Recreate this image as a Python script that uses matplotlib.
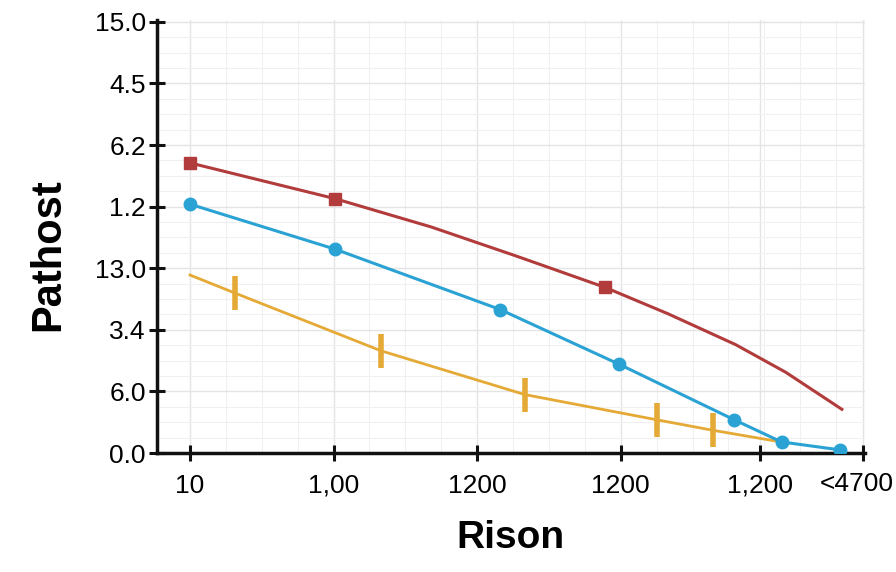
import matplotlib
matplotlib.use('Agg')
import matplotlib.pyplot as plt
from matplotlib.ticker import MultipleLocator

plt.rcParams['font.family'] = ['Liberation Sans', 'DejaVu Sans']

# tick positions / labels as printed on the chart
x_ticks = [0, 1, 2, 3, 3.97, 4.69]
x_labels = ['10', '1,00', '1200', '1200', '1,200', '']
last_x_label = '<4700'   # drawn by hand, slightly left of its tick
y_ticks = [0, 1, 2, 3, 4, 5, 6, 7]
y_labels = ['0.0', '6.0', '3.4', '13.0', '1.2', '6.2', '4.5', '15.0']

# red series (squares only on some points)
red_x = [0, 1.01, 1.68, 2.27, 2.89, 3.33, 3.80, 4.15, 4.54]
red_y = [4.71, 4.13, 3.67, 3.20, 2.69, 2.26, 1.76, 1.31, 0.71]
red_marks = [0, 1, 4]

# blue series
blue_x = [0, 1.01, 2.16, 2.99, 3.79, 4.12, 4.53]
blue_y = [4.04, 3.31, 2.33, 1.44, 0.54, 0.18, 0.05]

# orange series (vertical bar markers)
orange_x = [0, 0.31, 1.33, 2.33, 3.25, 3.64, 4.09]
orange_y = [2.89, 2.60, 1.66, 0.95, 0.54, 0.37, 0.19]
orange_marks = [1, 2, 3, 4, 5]

fig = plt.figure(figsize=(8.96, 5.72), dpi=100)
ax = fig.add_axes([0.1752, 0.208, 0.79, 0.757])

ax.plot(red_x, red_y, color='#b23b3b', lw=2.2, marker='s', ms=8,
        markevery=red_marks, zorder=3)
ax.plot(blue_x, blue_y, color='#2aa3d4', lw=2.2, marker='o', ms=9, zorder=4)
ax.plot(orange_x, orange_y, color='#e5a935', lw=2.0, marker='|', ms=24,
        mew=4, markevery=orange_marks, zorder=3)

ax.set_xlim(-0.23, 4.70)
ax.set_ylim(0, 7.03)

ax.set_xticks(x_ticks)
ax.set_xticklabels(x_labels, fontsize=19)
ax.set_yticks(y_ticks)
ax.set_yticklabels(y_labels, fontsize=19)

# the last tick label, nudged left so it stays inside the figure
ax.annotate(last_x_label, xy=(x_ticks[-1], 0), xycoords=('data', 'axes fraction'),
            xytext=(-5, -14), textcoords='offset points',
            ha='center', va='top', fontsize=19)

ax.xaxis.set_minor_locator(MultipleLocator(0.25))
ax.yaxis.set_minor_locator(MultipleLocator(0.25))
ax.grid(True, which='major', color='#e4e4e4', lw=1.0)
ax.grid(True, which='minor', color='#f0f0f0', lw=0.8)
ax.set_axisbelow(True)

ax.tick_params(which='major', direction='inout', length=12, width=2.2,
               color='#111111')
ax.tick_params(axis='x', pad=9)
ax.tick_params(axis='y', pad=2)
ax.tick_params(which='minor', length=0)

for s in ['top', 'right']:
    ax.spines[s].set_visible(False)
for s in ['left', 'bottom']:
    ax.spines[s].set_linewidth(2.5)
    ax.spines[s].set_color('#111111')

ax.set_xlabel('Rison', fontsize=28, fontweight='bold', labelpad=16)
ax.set_ylabel('Pathost', fontsize=30, fontweight='bold')
ax.yaxis.set_label_coords(-0.125, 0.459)

fig.savefig('out.png', dpi=100)
